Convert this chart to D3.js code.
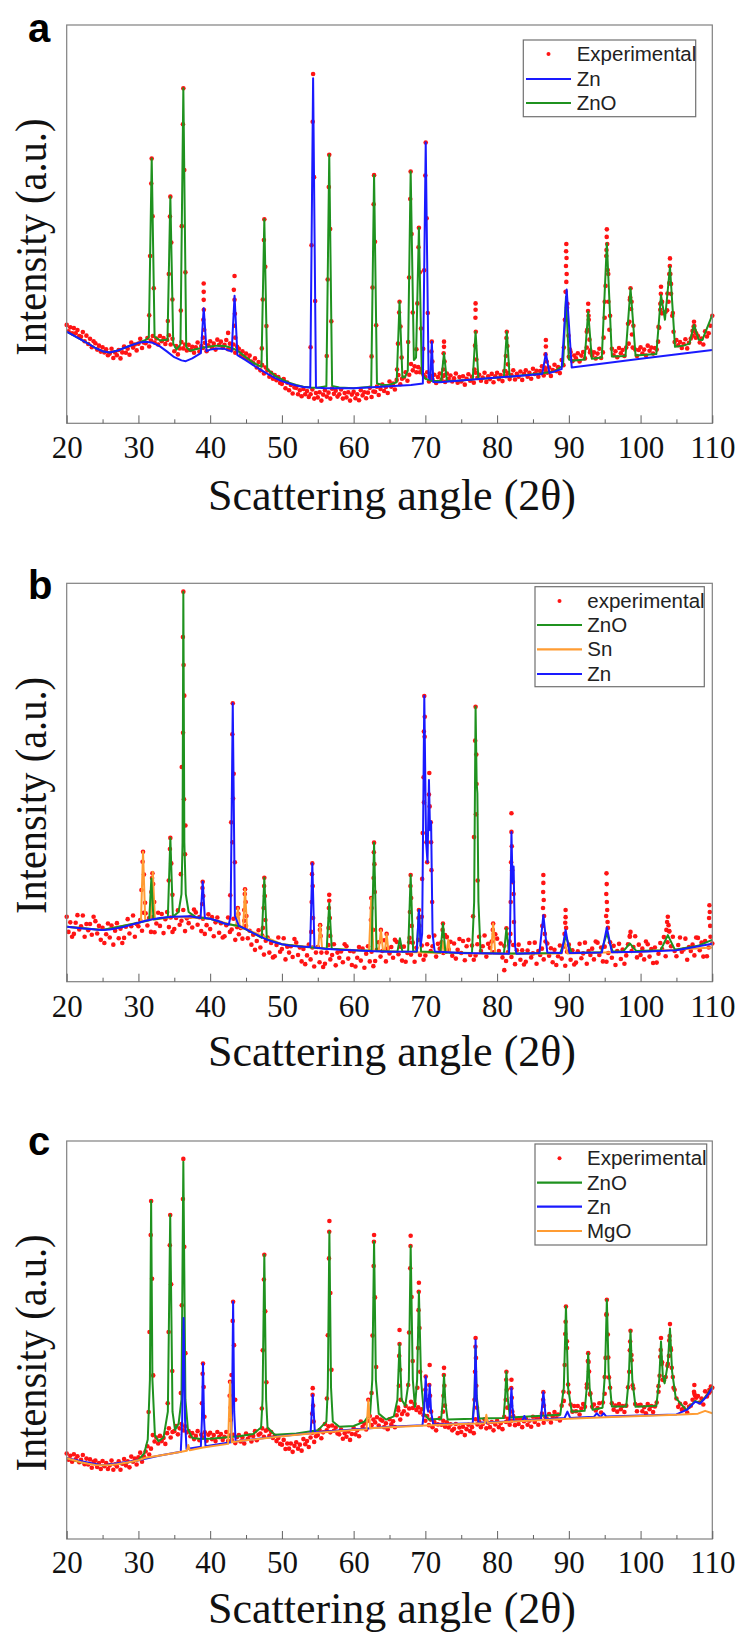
<!DOCTYPE html>
<html>
<head>
<meta charset="utf-8">
<script src="https://cdn.jsdelivr.net/npm/d3@7"></script>
<style>
  body { margin: 0; background: #fff; }
  svg { display: block; }
</style>
</head>
<body>
<div id="chart"></div>
<script>
// x axis (scattering angle, degrees)
var majorTicks = [20, 30, 40, 50, 60, 70, 80, 90, 100, 110];
var minorTicks = [25, 35, 45, 55, 65, 75, 85, 95, 105];

// experimental scans: one value every 0.25 deg from 20 to 110 (relative intensity, 0-100 of the frame)
var expStart = 20, expStep = 0.25;

var aExpY = [
  24.7,23.1,24.1,22.6, 23.9,22.6,23.4,21.9, 21.7,22.9,20.6,22.0, 19.9,21.2,19.1,20.6,
  20.1,18.5,19.5,18.0, 19.1,17.8,18.6,17.1, 17.5,18.7,16.4,17.8, 17.1,18.4,16.3,17.8,
  19.3,17.7,18.7,17.2, 20.3,19.0,19.8,18.3, 20.0,21.2,18.9,20.3, 20.1,21.4,19.3,20.8,
  21.9,20.3,21.3,19.8, 21.9,20.6,21.4,19.9, 20.9,22.1,19.8,21.2, 18.1,19.4,17.3,18.8,
  20.4,18.8,19.8,18.3, 19.7,18.4,19.2,17.7, 19.1,20.3,18.0,19.4, 18.9,20.2,18.1,19.6,
  20.6,19.0,20.0,18.5, 21.0,19.7,20.5,19.0, 19.7,20.9,18.6,20.0, 18.5,19.8,17.7,19.2,
  18.7,17.1,18.1,16.6, 17.5,16.2,17.0,15.5, 15.1,16.3,14.0,15.4, 13.3,14.6,12.5,14.0,
  13.3,11.7,12.7,11.2, 12.1,10.8,11.6,10.1, 9.9,11.1,8.8,10.2, 8.3,9.6,7.5,9.0,
  8.9,7.3,8.3,6.8, 8.6,7.3,8.1,6.6, 7.3,8.5,6.2,7.6, 6.5,7.8,5.7,7.2,
  8.3,6.7,7.7,6.2, 8.7,7.4,8.2,6.7, 7.3,8.5,6.2,7.6, 6.5,7.8,5.7,7.2,
  7.9,6.3,7.3,5.8, 8.3,7.0,7.8,6.3, 7.7,8.9,6.6,8.0, 7.9,9.2,7.1,8.6,
  9.7,8.1,9.1,7.6, 10.5,9.2,10.0,8.5, 10.9,12.1,9.8,11.2, 11.5,12.8,10.7,12.2,
  14.9,13.3,14.3,12.8, 14.1,12.8,13.6,12.1, 11.6,12.8,10.5,11.9, 10.9,12.2,10.1,11.6,
  12.5,10.9,11.9,10.4, 12.5,11.2,12.0,10.5, 11.3,12.5,10.2,11.6, 10.5,11.8,9.7,11.2,
  12.3,10.7,11.7,10.2, 12.7,11.4,12.2,10.7, 11.5,12.7,10.4,11.8, 11.1,12.4,10.3,11.8,
  12.7,11.1,12.1,10.6, 13.1,11.8,12.6,11.1, 12.1,13.3,11.0,12.4, 11.7,13.0,10.9,12.4,
  13.3,11.7,12.7,11.2, 13.7,12.4,13.2,11.7, 13.1,14.3,12.0,13.4, 12.7,14.0,11.9,13.4,
  14.7,13.1,14.1,12.6, 15.9,14.6,26.0,29.0, 16.7,17.9,15.6,17.0, 16.3,17.6,15.5,17.0,
  17.9,16.3,23.0,27.0, 18.3,17.0,17.8,16.3, 17.5,18.7,16.4,17.8, 30.5,43.5,37.5,27.0,
  18.7,17.1,18.1,16.6, 18.9,17.6,18.4,16.9, 19.0,25.0,31.0,30.5, 24.5,18.5,16.9,18.4,
  19.1,17.5,18.5,17.0, 19.5,18.2,19.0,17.5, 18.9,18.5,24.2,30.0, 30.5,27.7,28.0,32.6,
  37.5,35.0,27.7,20.4, 20.9,19.6,20.4,18.9, 19.9,21.1,18.8,20.2, 21.3,23.2,24.4,22.6,
  21.9,20.3,21.3,19.8, 23.1,21.8,22.6,24.5, 27.0
];

var bExpY = [
  16.3,12.5,14.9,11.3, 12.0,14.8,16.7,13.1, 13.9,16.6,11.3,14.5, 12.9,14.5,11.8,16.3,
  15.2,12.1,14.0,10.5, 13.5,9.7,11.9,14.6, 11.1,14.1,9.3,12.8, 14.7,10.9,13.3,9.7,
  11.0,13.8,15.7,12.1, 13.9,16.6,11.3,14.5, 13.9,15.5,12.8,17.3, 17.2,14.1,16.0,12.5,
  16.2,12.4,14.6,17.3, 14.0,17.0,12.2,15.7, 17.5,13.7,16.1,12.5, 13.2,16.0,17.9,14.3,
  15.3,18.0,12.7,15.9, 14.7,16.3,13.6,18.1, 17.4,14.3,16.2,12.7, 15.8,12.0,14.2,16.9,
  13.2,16.2,11.4,14.9, 16.1,12.3,14.7,11.1, 11.4,14.2,16.1,12.5, 13.1,15.8,10.5,13.7,
  11.9,13.5,10.8,15.3, 14.0,10.9,12.8,9.3, 11.8,8.0,10.2,12.9, 8.6,11.6,6.8,10.3,
  11.1,7.3,9.7,6.1, 6.4,9.2,11.1,7.5, 8.2,10.9,5.6,8.8, 7.3,8.9,6.2,10.7,
  9.8,6.7,8.6,5.1, 8.2,4.4,6.6,9.3, 5.6,8.6,3.8,7.3, 8.7,4.9,7.3,3.7,
  4.5,7.3,9.2,5.6, 6.7,9.4,4.1,7.3, 6.0,7.6,4.9,9.4, 8.9,5.8,7.7,4.2,
  7.6,3.8,6.0,8.7, 5.3,8.3,3.5,7.0, 8.9,5.1,7.5,3.9, 5.2,8.0,9.9,6.3,
  7.7,10.4,5.1,8.3, 7.1,8.7,6.0,10.5, 10.0,6.9,8.8,5.3, 8.8,5.0,7.2,9.9,
  6.8,9.8,5.0,8.5, 10.5,6.7,9.1,5.5, 6.6,9.4,11.3,7.7, 8.9,11.6,6.3,9.5,
  8.3,9.9,7.2,11.7, 11.2,8.1,10.0,6.5, 9.6,5.8,8.0,10.7, 7.2,10.2,5.4,8.9,
  10.5,6.7,9.1,5.5, 6.6,9.4,11.3,7.7, 8.9,11.6,6.3,9.5, 8.5,10.1,7.4,11.9,
  10.8,7.7,9.6,6.1, 9.0,5.2,7.4,10.1, 6.2,9.2,4.4,7.9, 9.3,5.5,7.9,4.3,
  5.0,7.8,9.7,6.1, 7.1,9.8,4.5,7.7, 6.7,8.3,5.6,10.1, 9.6,6.5,8.4,4.9,
  8.0,4.2,6.4,9.1, 5.8,8.8,4.0,7.5, 9.3,5.5,7.9,4.3, 4.8,7.6,9.5,5.9,
  7.1,9.8,4.5,7.7, 6.7,8.3,5.6,10.1, 9.8,6.7,8.6,5.1, 8.8,5.0,7.2,9.9,
  6.0,9.0,4.2,7.7, 9.5,5.7,8.1,4.5, 6.6,9.4,11.3,7.7, 8.7,11.4,6.1,9.3,
  6.7,8.3,5.6,10.1, 9.4,6.3,8.2,4.7, 8.6,4.8,7.0,9.7, 8.2,11.2,6.4,9.9,
  12.7,8.9,11.3,7.7, 6.4,9.2,11.1,7.5, 8.1,10.8,5.5,8.7, 7.7,9.3,6.6,11.1,
  11.0,7.9,9.8,6.3, 10.2,6.4,8.6,11.3, 9.6
];

var cExpY = [
  21.5,19.9,20.9,19.4, 21.3,20.0,20.8,19.3, 19.9,21.1,18.8,20.2, 18.7,20.0,17.9,19.4,
  19.7,18.1,19.1,17.6, 19.6,18.3,19.1,17.6, 18.5,19.7,17.4,18.8, 18.2,19.5,17.4,18.9,
  20.1,18.5,19.5,18.0, 20.7,19.4,20.2,18.7, 20.5,21.7,19.4,20.8, 22.0,23.3,21.2,22.7,
  26.1,24.5,25.5,24.0, 25.9,24.6,25.4,23.9, 26.6,27.8,25.5,26.9, 27.1,28.4,26.3,27.8,
  28.9,27.3,28.3,26.8, 27.1,25.8,26.6,25.1, 25.9,27.1,24.8,26.2, 25.5,26.8,24.7,26.2,
  26.7,25.1,26.1,24.6, 26.9,25.6,26.4,24.9, 25.7,26.9,24.6,26.0, 24.9,26.2,24.1,25.6,
  26.1,24.5,25.5,24.0, 26.5,25.2,26.0,24.5, 25.9,27.1,24.8,26.2, 26.5,27.8,25.7,27.2,
  27.5,25.9,26.9,25.4, 25.9,24.6,25.4,23.9, 23.7,24.9,22.6,24.0, 22.7,24.0,21.9,23.4,
  24.3,22.7,23.7,22.2, 25.1,23.8,24.6,23.1, 25.5,26.7,24.4,25.8, 26.1,27.4,25.3,26.8,
  28.9,27.3,28.3,26.8, 28.5,27.2,28.0,26.5, 26.3,27.5,25.2,26.6, 25.7,27.0,24.9,26.4,
  27.9,26.3,27.3,25.8, 29.5,28.2,29.0,27.5, 29.7,30.9,28.6,30.0, 29.3,30.6,28.5,30.0,
  29.7,28.1,29.1,27.6, 30.1,28.8,29.6,28.1, 31.1,32.3,30.0,31.4, 32.1,33.4,31.3,32.8,
  34.5,32.9,33.9,32.4, 33.1,31.8,32.6,31.1, 29.7,30.9,28.6,30.0, 28.1,29.4,27.3,28.8,
  30.3,28.7,29.7,28.2, 29.3,28.0,28.8,27.3, 27.7,28.9,26.6,28.0, 26.9,28.2,26.1,27.6,
  28.7,27.1,28.1,26.6, 30.1,28.8,29.6,28.1, 28.9,30.1,27.8,29.2, 28.1,29.4,27.3,28.8,
  29.7,28.1,29.1,27.6, 30.7,29.4,30.2,28.7, 29.7,30.9,28.6,30.0, 28.9,30.2,28.1,29.6,
  30.3,28.7,29.7,28.2, 30.7,29.4,30.2,28.7, 30.3,31.5,29.2,30.6, 30.1,31.4,29.3,30.8,
  31.9,30.3,31.3,29.8, 33.5,37.0,51.5,48.0, 36.8,33.8,32.0,33.4, 32.1,33.4,31.3,32.8,
  33.9,33.2,38.0,44.5, 36.6,33.2,33.8,32.3, 32.9,34.1,31.8,34.3, 40.7,56.5,45.6,38.0,
  34.1,32.5,33.5,32.0, 33.9,32.6,33.4,31.9, 33.5,38.1,47.4,44.9, 37.8,33.9,32.1,33.6,
  33.7,32.1,33.1,31.6, 33.9,32.6,33.4,31.9, 33.3,34.3,38.4,45.8, 44.4,39.9,40.7,43.5,
  49.9,47.5,40.7,37.5, 35.3,33.2,34.0,32.5, 32.9,34.1,31.8,33.2, 33.5,35.0,36.5,35.5,
  35.9,34.3,35.3,33.8, 37.1,35.8,36.6,37.1, 38.0
];

// experimental points on the flanks and tops of the peaks [angle, intensity]
var aPeakDots = [
  [31.85,66.5],[31.79,60.2],[31.98,52.0],[31.63,42.0],[32.14,33.9],[31.5,27.1],
  [34.45,56.9],[34.39,51.9],[34.58,45.4],[34.23,37.5],[34.74,31.1],[34.1,25.7],
  [36.26,84.1],[36.2,75.1],[36.39,63.6],[36.04,49.5],[36.55,37.9],[35.91,28.3],
  [39.1,35.1],[39.1,33.0],[39.1,31.0],[39.12,28.5],[39.05,26.0],[39.17,23.5],[39.0,21.5],
  [43.4,37.0],[43.3,33.5],[43.4,31.0],[43.45,27.5],[43.35,24.5],[43.5,21.5],[42.5,22.7],
  [47.55,51.2],[47.49,46.0],[47.68,39.3],[47.33,31.1],[47.84,24.4],[47.2,18.8],
  [54.35,87.7],[54.29,75.7],[54.48,61.8],[54.13,44.7],[54.64,30.7],[54.0,19.1],
  [56.6,67.4],[56.54,59.3],[56.73,48.8],[56.38,36.1],[56.89,25.6],[56.25,16.9],
  [62.85,62.3],[62.79,55.0],[62.98,45.6],[62.63,34.1],[63.14,24.6],[62.5,16.8],
  [66.4,30.5],[66.34,27.8],[66.53,24.3],[66.18,20.0],[66.69,16.5],[66.05,13.5],
  [67.95,63.2],[67.89,56.3],[68.08,47.5],[67.73,36.6],[68.24,27.8],[67.6,20.4],
  [69.1,49.1],[69.04,44.2],[69.23,37.9],[68.88,30.1],[69.39,23.8],[68.75,18.6],
  [70.05,70.5],[69.99,62.2],[70.18,51.5],[69.83,38.4],[70.34,27.7],[69.7,18.7],
  [70.9,20.5],[70.85,18.0],[70.98,15.5],
  [72.6,20.5],[72.6,19.2],[72.55,17.6],[72.68,15.5],[72.5,13.5],[72.75,12.2],
  [77.0,30.1],[77.0,28.5],[76.98,26.5],[77.03,23.0],[76.92,19.5],[77.1,16.0],[76.85,13.5],
  [81.35,23.0],[81.3,21.4],[81.43,19.4],[81.22,16.9],[81.5,14.8],[81.15,13.1],
  [86.8,20.9],[86.8,19.3],[86.75,17.3],[86.9,15.5],[86.65,14.0],
  [89.65,45.0],[89.62,43.2],[89.68,41.5],[89.6,39.5],[89.7,37.5],[89.65,35.5],[89.55,33.0],
  [89.8,30.0],[89.45,26.0],[89.95,22.0],[89.3,19.0],[90.15,18.5],
  [92.7,30.0],[92.68,28.2],[92.78,26.0],[92.57,23.5],[92.88,21.0],[92.5,19.0],[92.95,17.8],
  [95.3,48.7],[95.28,46.8],[95.35,45.0],[95.22,42.0],[95.42,38.5],[95.12,34.5],[95.52,30.5],
  [95.0,26.5],[95.65,23.5],[94.85,21.5],
  [98.6,33.9],[98.55,31.6],[98.69,28.7],[98.45,25.5],[98.8,22.3],[98.35,20.0],[98.9,19.0],
  [102.85,34.3],[102.83,32.5],[102.9,30.3],[102.75,28.5],[102.98,27.6],[102.6,24.0],[102.45,20.5],
  [104.1,41.4],[104.08,39.5],[104.15,37.5],[104.0,35.2],[104.25,32.5],[103.9,30.5],[104.42,27.0],
  [103.7,28.4],[104.6,23.0],
  [107.45,25.5],[107.4,24.3],[107.55,23.2],[107.25,22.0],[107.7,21.5]
];

var bPeakDots = [
  [30.64,32.6],[30.58,30.1],[30.77,26.9],[30.42,23.0],[30.93,19.8],
  [31.95,27.2],[31.9,26.0],[32.05,24.5],[31.8,22.5],[32.2,20.0],
  [34.45,36.1],[34.39,33.3],[34.58,29.7],[34.23,25.4],[34.74,21.8],
  [36.26,97.9],[36.2,86.5],[36.3,79.5],[36.39,71.8],[36.22,62.5],[36.04,53.9],[36.35,45.8],
  [36.55,39.2],[36.5,32.0],[35.91,27.0],
  [38.96,25.1],[38.93,23.5],[39.03,21.5],[38.88,19.5],
  [43.15,69.9],[43.09,62.1],[43.28,52.2],[43.2,46.0],[42.93,40.0],[43.12,35.0],[43.44,30.0],[42.8,21.7],
  [43.85,18.5],[43.95,17.0],
  [44.86,23.2],[44.83,22.0],[44.95,20.0],[44.75,18.0],[45.05,16.5],
  [47.55,26.1],[47.52,24.0],[47.62,21.5],[47.45,18.5],[47.7,15.5],[47.35,13.5],
  [54.24,29.7],[54.2,27.0],[54.3,24.0],[54.15,20.0],[54.35,16.0],[54.1,12.5],
  [55.33,14.2],[55.3,13.0],[55.4,11.5],
  [56.6,21.8],[56.6,20.3],[56.55,18.5],[56.68,16.0],[56.5,13.5],[56.75,11.5],
  [62.45,21.0],[62.5,18.5],[62.4,15.5],
  [62.85,34.9],[62.82,32.5],[62.9,29.5],[62.78,26.0],[62.95,22.5],[62.7,13.0],
  [63.8,13.0],[64.6,12.0],
  [67.95,26.8],[67.92,24.0],[68.02,21.0],[67.85,17.5],[68.1,14.0],[67.8,11.0],
  [69.1,18.0],[69.05,16.0],[69.18,14.0],
  [69.85,71.7],[69.79,62.8],[69.92,66.5],[69.75,51.3],[69.8,45.0],[69.63,37.3],[69.55,25.8],
  [69.5,16.3],[69.9,61.5],
  [70.55,52.4],[70.5,47.0],[70.6,44.0],[70.75,40.0],[70.8,35.0],[70.85,28.0],[70.95,20.0],
  [70.15,35.0],[70.25,30.0],
  [72.45,14.6],[72.4,13.0],[72.5,11.5],
  [77.0,69.0],[76.94,60.5],[77.1,57.0],[77.13,49.6],[77.05,42.0],[76.78,36.3],[77.29,25.4],[76.65,16.4],
  [79.45,14.6],[79.4,13.0],[79.55,12.0],
  [81.3,13.4],
  [82.0,42.3],[82.0,37.6],[82.05,34.0],[81.95,30.0],[82.1,28.0],[82.2,25.0],[82.3,22.0],
  [81.9,20.0],[82.35,15.0],[81.85,12.0],
  [86.45,26.8],[86.45,24.8],[86.42,22.5],[86.5,20.5],[86.4,18.5],[86.55,16.5],[86.3,14.0],[86.65,12.0],
  [89.55,18.0],[89.55,16.2],[89.5,14.8],[89.62,13.5],[89.4,12.0],
  [95.25,27.2],[95.28,24.5],[95.22,22.0],[95.3,20.0],[95.35,18.0],[95.2,16.5],[95.4,15.0],[95.45,13.5],
  [98.5,11.5],[98.6,12.5],
  [103.8,16.3],[103.7,15.0],[103.9,14.2],[103.6,13.0],[104.0,12.6],
  [109.6,19.2],[109.65,17.5],[109.55,16.0],[109.7,14.0],
  [81.0,2.9]
];

var cPeakDots = [
  [31.77,84.9],[31.71,76.4],[31.9,65.4],[31.55,52.0],[32.06,41.1],[31.42,31.9],
  [34.43,81.4],[34.37,73.8],[34.56,64.0],[34.21,52.0],[34.72,42.2],[34.08,34.1],
  [36.26,95.5],[36.2,85.4],[36.39,73.4],[36.04,58.7],[36.55,46.7],[35.91,36.7],
  [39.0,44.1],[38.95,41.5],[39.1,38.2],[38.85,34.1],[39.2,30.7],
  [42.77,39.5],[42.72,36.0],[42.85,33.0],
  [43.2,59.6],[43.14,54.8],[43.33,48.7],[42.98,41.2],[43.49,35.0],[42.85,29.9],
  [47.55,71.4],[47.49,65.2],[47.68,57.2],[47.33,47.4],[47.84,39.4],[47.2,32.8],
  [54.3,37.9],[54.28,36.2],[54.35,33.5],[54.22,31.5],[54.42,29.5],
  [56.62,79.9],[56.6,77.2],[56.56,70.5],[56.75,61.8],[56.4,51.2],[56.91,42.5],[56.27,35.3],
  [62.05,35.0],[62.85,76.4],[62.83,74.7],[62.79,68.6],[62.98,60.7],[62.63,51.1],[63.14,43.2],[62.5,36.7],
  [66.4,52.5],[66.4,49.0],[66.35,46.0],[66.48,42.5],[66.3,38.5],[66.55,35.0],[66.2,33.0],
  [67.95,76.2],[67.93,73.6],[67.89,68.0],[68.08,60.8],[67.73,51.9],[68.24,44.7],[67.6,38.7],
  [69.1,64.4],[69.08,62.1],[69.05,57.5],[69.18,53.0],[68.98,48.0],[69.28,42.0],[68.88,38.0],
  [70.05,40.8],[70.0,37.5],[70.15,35.0],[70.6,43.7],[70.55,38.7],[70.65,36.0],[70.45,33.5],[70.8,32.0],
  [72.6,43.0],[72.58,41.2],[72.65,38.5],[72.52,36.0],[72.72,33.5],[72.45,32.0],
  [77.0,50.5],[76.98,48.3],[77.05,45.5],[76.92,42.0],[77.1,38.5],[76.85,35.0],[77.2,33.0],
  [81.3,42.0],[81.27,40.0],[81.35,37.5],[81.2,35.0],[81.42,33.0],
  [82.0,40.0],[81.98,37.9],[82.05,35.5],[81.93,33.5],[82.12,32.0],
  [86.45,36.9],[86.42,35.0],[86.52,33.5],
  [89.6,58.4],[89.55,54.6],[89.73,49.7],[89.42,43.7],[89.9,38.8],[89.3,34.7],
  [92.7,46.7],[92.65,44.7],[92.82,42.1],[92.52,38.9],[92.95,36.3],
  [95.3,60.1],[95.25,56.3],[95.43,51.4],[95.12,45.5],[95.6,40.6],[95.0,36.5],
  [98.6,52.3],[98.55,49.6],[98.73,46.2],[98.42,42.0],[98.9,38.6],
  [102.85,50.5],[102.8,47.5],[102.95,44.0],[102.65,41.0],[103.05,40.0],[102.5,37.0],
  [104.1,54.0],[104.05,51.0],[104.2,48.0],[103.95,46.0],[104.35,43.0],[103.8,44.0],[104.6,38.0],
  [107.5,38.7],[107.45,37.0],[107.6,36.0],
  [109.8,38.3],[109.6,37.5]
];

// fitted phase curves, vertices [angle, intensity]
var aZnO = [
  [20,23.0],[21,22.0],[22,21.0],[23,20.0],[24,18.9],[25,18.1],[26,17.8],[27,18.2],[28,18.9],[29,19.6],
  [30,20.2],[31,20.9],[31.45,21.6],[31.85,66.5],[32.25,21.8],[33,20.8],[34.05,21.0],[34.45,56.9],
  [34.85,20.0],[35.3,18.5],[35.86,19.8],[36.26,84.1],[36.66,19.2],[37.2,18.2],[38,18.6],[39,19.0],
  [40,19.3],[41,19.5],[42,19.4],[43,19.0],[44,18.0],[45,16.6],[46,15.2],[47.15,14.2],[47.55,51.2],
  [47.95,13.6],[49,12.0],[50,11.0],[51,10.2],[52,9.6],[53,9.2],[54,9.0],[55,8.9],[56.2,9.3],
  [56.6,67.4],[57.0,9.4],[58,9.0],[60,8.8],[62.45,9.2],[62.85,62.3],[63.25,10.0],[64,9.6],[65,9.7],
  [66.0,10.3],[66.4,30.5],[66.8,11.5],[67.2,11.7],[67.55,13.2],[67.95,63.2],[68.4,15.9],[68.7,16.5],
  [69.1,49.1],[69.5,12.5],[70,11.2],[71,10.6],[72.2,10.6],[72.6,17.6],[73.0,10.6],[74,10.6],
  [76.6,11.0],[77.0,23.0],[77.4,11.1],[79,11.3],[80.95,11.6],[81.35,23.0],[81.75,11.7],[84,12.1],
  [86,12.5],[88,13.0],[89.2,14.5],[89.6,31.8],[90.0,16.0],[90.5,15.7],[92.2,16.0],[92.7,28.0],
  [93.2,16.2],[94.6,16.5],[95.3,45.2],[96.0,16.8],[97.9,16.9],[98.6,33.9],[99.3,17.0],[102.2,17.4],
  [102.85,32.2],[103.4,26.0],[104.1,39.3],[104.8,19.2],[106,19.5],[106.8,20.0],[107.45,24.7],
  [108.1,21.0],[108.6,20.9],[110,27.2]
];
var aZn = [
  [20,23.0],[21,22.0],[22,21.0],[23,20.0],[24,18.9],[25,18.1],[26,17.8],[27,18.2],[28,18.9],[29,19.6],
  [30,20.2],[31,20.5],[32,20.2],[33,19.3],[34,18.0],[35,16.6],[36,15.8],[36.6,15.6],[37.5,16.3],
  [38.7,17.6],[39.1,28.9],[39.5,18.1],[40,18.5],[41,18.8],[42,18.7],[43.0,18.0],[43.4,32.0],
  [43.8,17.1],[45,15.8],[46,14.6],[47,13.5],[48,12.4],[49,11.4],[50,10.6],[51,10.0],[52,9.5],
  [53,9.1],[53.95,9.0],[54.35,86.6],[54.75,9.0],[56,8.8],[60,8.8],[62,9.0],[65,9.3],[68,9.6],
  [69.65,10.0],[70.05,70.5],[70.45,11.5],[70.7,11.0],[70.9,20.5],[71.1,10.4],[72,10.3],[80,11.5],
  [86.3,12.4],[86.8,17.6],[87.3,12.6],[89.0,13.6],[89.7,33.6],[90.4,14.0],[100,16.2],[110,18.4]
];

var bZnO = [
  [20,13.8],[25,13.0],[30,14.8],[31.5,15.4],[31.8,25.9],[32.1,15.6],[34.1,16.2],[34.45,36.1],
  [34.8,16.3],[35.6,17.5],[36.0,22.0],[36.15,35.0],[36.26,97.9],[36.4,35.0],[36.6,22.0],[37.0,17.5],
  [38,16.2],[40,15.8],[42,14.6],[44,14.0],[46,12.2],[47.2,11.0],[47.55,26.1],[47.9,10.6],[50,9.4],
  [53,8.8],[56.25,8.3],[56.6,19.7],[56.95,8.3],[60,7.9],[62.5,7.8],[62.85,34.9],[63.2,7.7],
  [66.1,7.5],[66.45,10.9],[66.8,7.5],[67.6,7.6],[67.95,26.8],[68.3,7.6],[68.8,7.6],[69.1,18.0],
  [69.4,7.6],[72.1,7.3],[72.45,14.6],[72.8,7.3],[76.5,7.2],[76.8,20.0],[77.0,69.0],[77.15,50.0],
  [77.25,47.3],[77.4,20.0],[77.7,7.2],[80.95,7.1],[81.3,13.4],[81.65,7.1],[88.8,7.2],[89.6,11.3],
  [90.4,7.2],[94.5,7.4],[95.3,12.1],[96.1,7.6],[97.6,7.6],[98.5,9.6],[99.4,7.7],[102.8,7.9],
  [103.8,11.7],[104.8,8.0],[106,8.4],[108,9.0],[110,10.5]
];
var bSn = [
  [20,13.8],[25,13.0],[30,14.8],[30.35,15.0],[30.64,32.6],[30.95,15.3],[31.7,15.5],[32.0,27.6],
  [32.3,15.6],[35,16.3],[40,15.8],[43.6,14.0],[43.87,18.5],[44.15,13.6],[44.6,13.3],[44.86,23.2],
  [45.15,13.1],[50,9.4],[55.05,8.5],[55.33,14.2],[55.6,8.4],[60,7.9],[62.15,7.8],[62.45,21.0],
  [62.75,7.8],[63.5,7.7],[63.8,13.0],[64.1,7.7],[64.35,7.6],[64.6,12.0],[64.85,7.6],[72.2,7.2],
  [72.45,10.0],[72.7,7.2],[72.95,7.2],[73.2,10.6],[73.45,7.2],[79.15,7.0],[79.45,14.6],[79.75,7.0],
  [89.0,7.1],[89.4,10.0],[89.8,7.1],[95,7.3],[100,7.5],[110,8.6]
];
var bZn = [
  [20,13.8],[22,13.4],[24,13.1],[25,13.0],[26,13.1],[27,13.4],[28,13.8],[29,14.3],[30,14.8],
  [31,15.3],[32,15.7],[33,16.0],[34,16.2],[35,16.3],[37,16.4],[38,16.2],[38.66,16.0],[38.96,25.1],
  [39.26,16.0],[40,15.8],[41,15.3],[42,14.6],[42.6,14.3],[42.85,16.5],[43.15,69.9],[43.45,16.5],
  [44,14.0],[45,13.2],[46,12.2],[47,11.3],[48,10.5],[49,9.9],[50,9.4],[51,9.1],[52,8.9],[53,8.8],
  [53.94,8.7],[54.24,29.7],[54.54,8.6],[56,8.3],[58,8.0],[60,7.9],[62,7.7],[65,7.5],[68.8,7.6],
  [69.1,18.0],[69.35,9.0],[69.55,12.0],[69.85,71.7],[70.1,35.0],[70.3,30.0],[70.5,50.6],[70.65,38.0],
  [70.8,40.2],[71.0,12.0],[71.3,7.6],[75,7.2],[81.65,7.0],[81.8,12.0],[82.0,37.6],[82.15,25.0],
  [82.3,28.9],[82.5,9.0],[82.7,7.0],[85.9,7.2],[86.45,16.7],[87.0,7.3],[89.0,7.2],[89.55,13.0],
  [90.1,7.2],[94.6,7.3],[95.3,13.6],[96.0,7.4],[100,7.5],[105,7.9],[110,9.5]
];

var cZnO = [
  [20,20.3],[22,19.3],[25,18.5],[28,19.1],[30,19.8],[30.8,21.5],[31.3,25.0],[31.6,40.0],[31.77,84.9],
  [31.95,40.0],[32.3,26.0],[32.8,24.6],[33.5,25.5],[34.1,32.0],[34.43,81.4],[34.75,32.0],[35.1,27.4],
  [35.6,29.0],[36.0,35.0],[36.26,94.8],[36.55,35.0],[36.9,27.5],[37.5,25.4],[38.5,25.2],[40,25.2],
  [42,25.5],[44,25.8],[46,26.4],[47.1,28.0],[47.3,35.0],[47.55,71.4],[47.8,35.0],[48.0,28.0],
  [49,26.2],[52,26.5],[55,27.3],[56.2,29.5],[56.4,38.0],[56.62,77.2],[56.85,38.0],[57.1,29.5],
  [58,28.2],[60,28.4],[61.5,29.5],[62.3,31.5],[62.6,40.0],[62.85,74.7],[63.1,40.0],[63.5,31.5],
  [64.5,30.0],[65.6,30.8],[66.1,35.0],[66.4,49.0],[66.7,35.0],[67.2,33.5],[67.7,40.0],[67.95,73.6],
  [68.25,40.0],[68.55,33.2],[68.85,40.0],[69.1,62.1],[69.4,40.0],[69.8,31.5],[70.5,30.0],[72.2,30.2],
  [72.4,34.0],[72.6,41.2],[72.8,34.0],[73.1,30.0],[76.6,30.2],[76.85,36.0],[77.0,48.3],[77.15,36.0],
  [77.5,30.3],[80.9,30.4],[81.1,35.0],[81.3,42.0],[81.5,35.0],[81.8,30.5],[88.8,31.2],[89.3,38.0],
  [89.6,58.4],[89.9,38.0],[90.4,32.0],[92.2,32.2],[92.5,38.0],[92.7,46.7],[92.9,38.0],[93.3,32.5],
  [94.7,33.0],[95.05,42.0],[95.3,60.1],[95.55,42.0],[96.0,33.3],[98.0,33.3],[98.35,40.0],[98.6,52.3],
  [98.85,40.0],[99.3,33.2],[102.2,33.5],[102.6,40.0],[102.85,49.6],[103.1,41.0],[103.35,39.1],
  [103.8,44.0],[104.1,52.9],[104.4,42.0],[104.9,35.5],[105.5,34.2],[106.4,32.4],[107.0,33.5],
  [107.6,34.7],[108.3,34.2],[109.2,36.0],[110,38.3]
];
var cZn = [
  [20,20.3],[25,18.5],[30,19.8],[33,21.0],[35.9,21.9],[36.1,30.0],[36.3,55.5],[36.5,30.0],[36.7,22.6],
  [38.7,23.2],[38.85,30.0],[39.0,44.1],[39.15,30.0],[39.35,23.3],[42.9,24.3],[43.05,32.0],[43.2,59.6],
  [43.35,32.0],[43.55,24.5],[50,25.9],[54.0,26.6],[54.3,36.2],[54.6,26.8],[60,27.5],[65,28.2],
  [69.6,28.6],[69.85,33.0],[70.05,40.8],[70.25,33.0],[70.4,32.0],[70.6,38.7],[70.8,32.0],[71.1,28.8],
  [76.6,29.1],[76.85,35.0],[77.0,50.0],[77.15,35.0],[77.4,29.2],[81.7,29.5],[81.85,33.0],[82.0,37.9],
  [82.15,33.0],[82.35,29.6],[83.5,29.7],[83.8,30.9],[84.1,29.8],[86.1,30.0],[86.45,36.9],[86.8,30.1],
  [89.4,30.4],[89.8,32.0],[90.2,30.4],[93.5,30.7],[93.9,31.6],[94.3,30.8],[94.5,30.8],[94.85,31.6],
  [95.2,30.8],[100,31.0],[105,31.3],[106.5,32.5],[107.6,34.5],[108.3,34.0],[109.2,35.8],[110,38.0]
];
var cMgO = [
  [20,20.3],[21,19.8],[22,19.3],[23,18.9],[24,18.6],[25,18.5],[26,18.6],[27,18.8],[28,19.1],[29,19.4],
  [30,19.8],[31,20.4],[33,21.0],[35,21.6],[36.75,22.2],[36.95,23.6],[37.15,22.3],[39,23.0],[42.5,23.9],
  [42.77,39.5],[43.0,24.3],[45,24.8],[50,25.8],[55,26.7],[60,27.4],[61.8,27.6],[62.05,34.9],[62.3,27.8],
  [65,28.1],[70,28.5],[75,28.9],[78.3,29.1],[78.5,31.2],[78.7,29.2],[80,29.3],[85,29.8],[90,30.2],
  [95,30.6],[100,30.9],[105,31.2],[108,31.5],[109,32.2],[110,31.6]
];

// colours
var red = "#ff1414", green = "#1f921f", blue = "#1a1aff", orange = "#ff9c33";

var width = 740, height = 1633;
var plotLeft = 66.7, plotRight = 712.3;

var svg = d3.select("#chart")
  .append("svg")
  .attr("width", width)
  .attr("height", height);

var x = d3.scaleLinear().domain([20, 110]).range([plotLeft, plotRight]);

var panels = [
  { tag: "a", top: 25, bottom: 423.3, tagY: 41.7, tickY: 458, titleY: 510,
    expY: aExpY, peakDots: aPeakDots,
    curves: [{ pts: aZnO, color: green }, { pts: aZn, color: blue }],
    legend: { x: 523.3, y: 40, w: 172.4, h: 76.7, lineX: 526, lineW: 45, textX: 576.7,
      rows: [{ y: 54, dot: true, label: "Experimental" }, { y: 79, color: blue, label: "Zn" }, { y: 103, color: green, label: "ZnO" }] } },
  { tag: "b", top: 583.3, bottom: 981.7, tagY: 599, tickY: 1017, titleY: 1066,
    expY: bExpY, peakDots: bPeakDots,
    curves: [{ pts: bSn, color: orange }, { pts: bZnO, color: green }, { pts: bZn, color: blue }],
    legend: { x: 535, y: 586.7, w: 169.3, h: 100, lineX: 537, lineW: 45, textX: 587.3,
      rows: [{ y: 601, dot: true, label: "experimental" }, { y: 625, color: green, label: "ZnO" },
             { y: 649.3, color: orange, label: "Sn" }, { y: 674, color: blue, label: "Zn" }] } },
  { tag: "c", top: 1141, bottom: 1539, tagY: 1155, tickY: 1573, titleY: 1623,
    expY: cExpY, peakDots: cPeakDots,
    curves: [{ pts: cZnO, color: green }, { pts: cZn, color: blue }, { pts: cMgO, color: orange }],
    legend: { x: 535, y: 1144, w: 171.7, h: 101, lineX: 537, lineW: 45, textX: 587,
      rows: [{ y: 1158.3, dot: true, label: "Experimental" }, { y: 1182.7, color: green, label: "ZnO" },
             { y: 1206.7, color: blue, label: "Zn" }, { y: 1231, color: orange, label: "MgO" }] } }
];

var serif = "'Liberation Serif', 'Times New Roman', serif";
var sans = "'Liberation Sans', Arial, sans-serif";

panels.forEach(function(p) {
  var y = d3.scaleLinear().domain([0, 100]).range([p.bottom, p.top]);
  var g = svg.append("g");

  // experimental points
  var dots = p.expY.map(function(v, i) { return [expStart + i * expStep, v]; }).concat(p.peakDots);
  g.append("g").selectAll("circle")
    .data(dots)
    .enter()
    .append("circle")
    .attr("cx", function(d) { return x(d[0]); })
    .attr("cy", function(d) { return y(d[1]); })
    .attr("r", 2.3)
    .attr("fill", red);

  // fitted curves
  var line = d3.line()
    .x(function(d) { return x(d[0]); })
    .y(function(d) { return y(d[1]); });
  p.curves.forEach(function(c) {
    g.append("path")
      .attr("d", line(c.pts))
      .attr("fill", "none")
      .attr("stroke", c.color)
      .attr("stroke-width", 2.0)
      .attr("stroke-linejoin", "round");
  });

  // frame
  g.append("rect")
    .attr("x", plotLeft)
    .attr("y", p.top)
    .attr("width", plotRight - plotLeft)
    .attr("height", p.bottom - p.top)
    .attr("fill", "none")
    .attr("stroke", "#808080")
    .attr("stroke-width", 1.2);

  // bottom axis, ticks pointing inward
  var major = g.append("g")
    .attr("transform", "translate(0," + p.bottom + ")")
    .call(d3.axisBottom(x).tickValues(majorTicks).tickSizeInner(-8).tickSizeOuter(0).tickFormat(d3.format("d")));
  major.select(".domain").remove();
  major.selectAll("line").attr("stroke", "#606060");
  major.attr("font-family", serif).attr("font-size", 31);
  major.selectAll("text")
    .attr("y", p.tickY - p.bottom)
    .attr("dy", null)
    .attr("fill", "#111");

  var minor = g.append("g")
    .attr("transform", "translate(0," + p.bottom + ")")
    .call(d3.axisBottom(x).tickValues(minorTicks).tickSizeInner(-4).tickSizeOuter(0).tickFormat(""));
  minor.select(".domain").remove();
  minor.selectAll("line").attr("stroke", "#606060");

  // axis titles
  g.append("text")
    .attr("x", 392)
    .attr("y", p.titleY)
    .attr("text-anchor", "middle")
    .attr("font-family", serif)
    .attr("font-size", 44)
    .attr("fill", "#111")
    .text("Scattering angle (2\u03b8)");

  g.append("text")
    .attr("transform", "translate(46," + ((p.top + p.bottom) / 2 + 13) + ") rotate(-90) scale(0.92,1)")
    .attr("text-anchor", "middle")
    .attr("font-family", serif)
    .attr("font-size", 44)
    .attr("fill", "#111")
    .text("Intensity (a.u.)");

  // panel letter
  g.append("text")
    .attr("x", 28)
    .attr("y", p.tagY)
    .attr("font-family", sans)
    .attr("font-weight", "bold")
    .attr("font-size", 40)
    .attr("fill", "#000")
    .text(p.tag);

  // legend
  var L = p.legend;
  var lg = g.append("g");
  lg.append("rect")
    .attr("x", L.x).attr("y", L.y)
    .attr("width", L.w).attr("height", L.h)
    .attr("fill", "#fff")
    .attr("stroke", "#707070")
    .attr("stroke-width", 1.2);
  L.rows.forEach(function(r) {
    if (r.dot) {
      lg.append("circle")
        .attr("cx", L.lineX + L.lineW / 2)
        .attr("cy", r.y)
        .attr("r", 2.0)
        .attr("fill", red);
    } else {
      lg.append("line")
        .attr("x1", L.lineX).attr("x2", L.lineX + L.lineW)
        .attr("y1", r.y).attr("y2", r.y)
        .attr("stroke", r.color)
        .attr("stroke-width", 2.2);
    }
    lg.append("text")
      .attr("x", L.textX)
      .attr("y", r.y + 7)
      .attr("font-family", sans)
      .attr("font-size", 20.5)
      .attr("fill", "#222")
      .text(r.label);
  });
});
</script>
</body>
</html>
